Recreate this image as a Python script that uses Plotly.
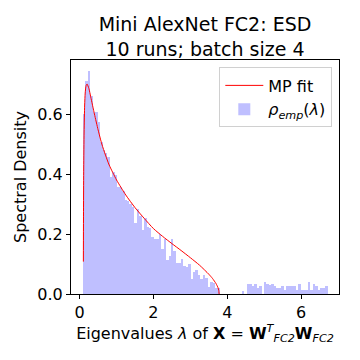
import numpy as np
import plotly.graph_objects as go

# Histogram (empirical spectral density), 100 equal bins
hist_min = 0.09
hist_max = 6.72
n_bins = 100
rho_emp = [
    0.600, 0.710, 0.743, 0.660, 0.608, 0.606, 0.574, 0.508, 0.480, 0.471,
    0.457, 0.389, 0.408, 0.396, 0.358, 0.356, 0.345, 0.313, 0.311, 0.300,
    0.290, 0.238, 0.284, 0.260, 0.213, 0.252, 0.225, 0.220, 0.191, 0.183,
    0.183, 0.200, 0.150, 0.183, 0.113, 0.127, 0.182, 0.143, 0.104, 0.104,
    0.117, 0.095, 0.091, 0.100, 0.049, 0.072, 0.080, 0.063, 0.049, 0.063,
    0.054, 0.024, 0.040, 0.037, 0.019, 0.020, 0.000, 0.000, 0.000, 0.000,
    0.000, 0.000, 0.000, 0.000, 0.000, 0.010, 0.000, 0.033, 0.033, 0.027,
    0.033, 0.021, 0.027, 0.000, 0.040, 0.033, 0.030, 0.033, 0.027, 0.021,
    0.021, 0.027, 0.015, 0.027, 0.027, 0.027, 0.027, 0.015, 0.033, 0.015,
    0.015, 0.015, 0.040, 0.015, 0.035, 0.027, 0.015, 0.021, 0.021, 0.027,
]

# Marchenko-Pastur fit curve
mp_lambda = [0.100, 0.105, 0.110, 0.120, 0.135, 0.150, 0.175, 0.200, 0.250, 0.300,
             0.400, 0.500, 0.600, 0.700, 0.800, 1.000, 1.250, 1.500, 1.750, 2.000,
             2.250, 2.500, 2.750, 3.000, 3.250, 3.500, 3.600, 3.700, 3.750, 3.770, 3.780]
mp_density = [0.108, 0.300, 0.420, 0.540, 0.630, 0.670, 0.695, 0.700, 0.685, 0.657,
              0.600, 0.547, 0.500, 0.463, 0.430, 0.380, 0.330, 0.288, 0.252, 0.218,
              0.192, 0.168, 0.145, 0.121, 0.096, 0.066, 0.052, 0.034, 0.021, 0.012, 0.0]

x_ticks = [0, 2, 4, 6]
y_ticks = [0.0, 0.2, 0.4, 0.6]

edges = np.linspace(hist_min, hist_max, n_bins + 1)
centers = 0.5 * (edges[:-1] + edges[1:])
width = edges[1] - edges[0]

FONT = "DejaVu Sans"

fig = go.Figure()
fig.add_trace(go.Bar(
    x=centers, y=rho_emp, width=width,
    marker=dict(color="rgb(191,191,255)", line=dict(width=0)),
    name="<i>ρ</i><sub><i>emp</i></sub>(<i>λ</i>)", legendrank=2,
))
fig.add_trace(go.Scatter(
    x=mp_lambda, y=mp_density, mode="lines",
    line=dict(color="red", width=1, shape="spline", smoothing=0.6),
    name="MP fit", legendrank=1,
))

# the page body adds an 8px offset, so margins are shifted by 8px
fig.update_layout(
    width=360, height=360,
    margin=dict(l=61, r=29, t=52, b=74),
    paper_bgcolor="white", plot_bgcolor="white",
    font=dict(family=FONT, size=16, color="black"),
    bargap=0,
    title=dict(
        text="Mini AlexNet FC2: ESD<br>10 runs; batch size 4",
        font=dict(size=19, family=FONT, color="black"),
        x=0.5, xanchor="center", xref="paper",
        y=0.935, yanchor="top", yref="container",
    ),
    legend=dict(
        x=0.975, xanchor="right", y=0.968, yanchor="top",
        bgcolor="rgba(255,255,255,0.8)", bordercolor="#d0d0d0", borderwidth=1,
        font=dict(size=16, family=FONT),
        itemwidth=38, tracegroupgap=0, traceorder="normal",
    ),
    showlegend=True,
)
fig.update_xaxes(
    range=[-0.235, 7.03], tickvals=x_ticks, ticktext=[str(v) for v in x_ticks],
    showgrid=False, zeroline=False, showline=True, linecolor="black", linewidth=1,
    mirror=True, ticks="outside", ticklen=4, tickcolor="black",
    title=dict(
        text="Eigenvalues <i>λ</i> of <b>X</b> = <b>W</b><sup><i>T</i></sup><sub><i>FC2</i></sub><b>W</b><sub><i>FC2</i></sub>",
        font=dict(size=16), standoff=3,
    ),
)
fig.update_yaxes(
    range=[0, 0.78], tickvals=y_ticks, ticktext=[f"{v:.1f}" for v in y_ticks],
    showgrid=False, zeroline=False, showline=True, linecolor="black", linewidth=1,
    mirror=True, ticks="outside", ticklen=4, tickcolor="black",
    title=dict(text="Spectral Density", font=dict(size=16), standoff=6),
)

fig.write_html("out.html")
